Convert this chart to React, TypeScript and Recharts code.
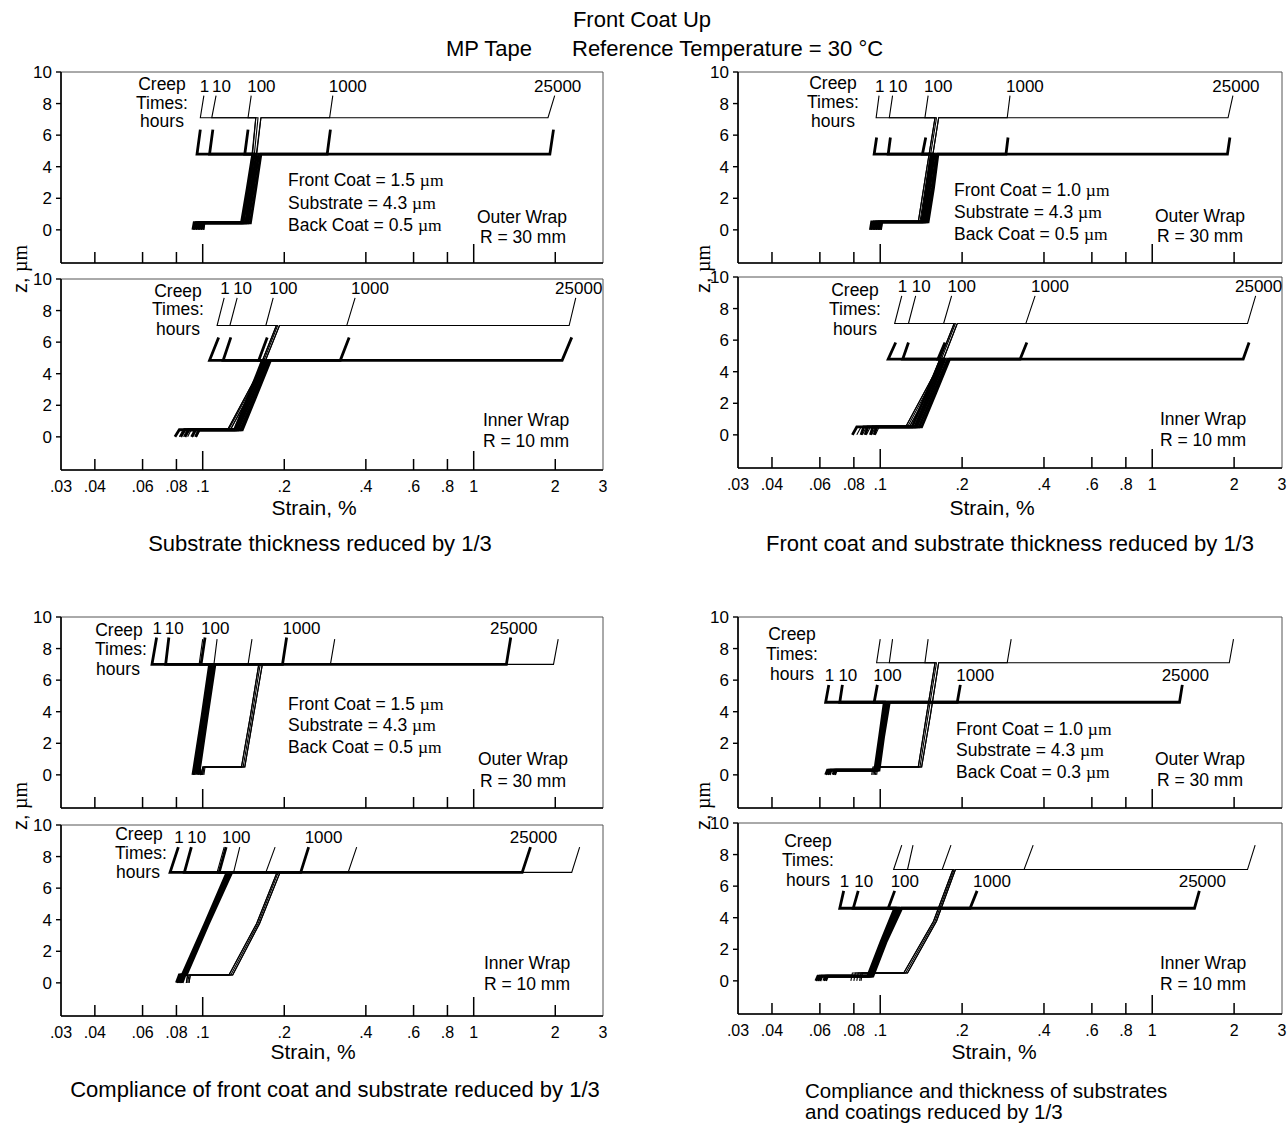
import React from 'react';
import { LineChart, Line, XAxis, YAxis, ReferenceArea, ReferenceDot } from 'recharts';

const FONT = '"Liberation Sans", Arial, Helvetica, sans-serif';
const SERIF = '"Liberation Serif", "Times New Roman", serif';

// ---------- shared axis data ----------
const creepTimes = ['1', '10', '100', '1000', '25000'];
const xTickValues = [0.03, 0.04, 0.06, 0.08, 0.1, 0.2, 0.4, 0.6, 0.8, 1, 2, 3];
const xTickLabels = ['.03', '.04', '.06', '.08', '.1', '.2', '.4', '.6', '.8', '1', '2', '3'];
const zTicks = [0, 2, 4, 6, 8, 10];

// Each row = one creep time (1, 10, 100, 1000, 25000 h), strain in %:
// [back coat @z0, back coat @z1, substrate @z1, substrate @mid, substrate @z2, front coat @z2, front coat @z3]
// Z arrays = [bottom, back/substrate interface, substrate/front interface, top of front coat]

// Panel A: substrate thickness reduced by 1/3
const aOuterThickZ = [0, 0.45, 4.8, 6.35];
const aOuterThick = [
  [0.092, 0.093, 0.139, 0.146, 0.153, 0.0953, 0.098],
  [0.094, 0.095, 0.141, 0.148, 0.155, 0.106, 0.109],
  [0.096, 0.097, 0.144, 0.151, 0.158, 0.143, 0.147],
  [0.098, 0.099, 0.147, 0.154, 0.161, 0.288, 0.296],
  [0.1, 0.101, 0.15, 0.157, 0.164, 1.91, 1.97],
];
const aOuterThinZ = [0, 0.5, 7.1, 8.5];
const aOuterThin = [
  [0.093, 0.094, 0.144, 0.15, 0.157, 0.098, 0.101],
  [0.095, 0.096, 0.145, 0.151, 0.157, 0.108, 0.112],
  [0.097, 0.098, 0.146, 0.153, 0.16, 0.147, 0.151],
  [0.099, 0.1, 0.147, 0.155, 0.164, 0.294, 0.302],
  [0.101, 0.102, 0.148, 0.156, 0.164, 1.88, 1.99],
];
const aInnerThickZ = [0, 0.45, 4.85, 6.3];
const aInnerThick = [
  [0.079, 0.082, 0.131, 0.148, 0.166, 0.106, 0.1145],
  [0.083, 0.086, 0.133, 0.15, 0.169, 0.119, 0.127],
  [0.086, 0.089, 0.135, 0.153, 0.172, 0.161, 0.173],
  [0.091, 0.094, 0.138, 0.156, 0.175, 0.322, 0.347],
  [0.094, 0.097, 0.14, 0.158, 0.178, 2.12, 2.3],
];
const aInnerThinZ = [0, 0.5, 7.05, 8.8];
const aInnerThin = [
  [0.082, 0.085, 0.124, 0.157, 0.187, 0.113, 0.12],
  [0.085, 0.088, 0.124, 0.157, 0.187, 0.126, 0.134],
  [0.088, 0.091, 0.125, 0.159, 0.189, 0.171, 0.182],
  [0.092, 0.095, 0.127, 0.161, 0.192, 0.34, 0.365],
  [0.095, 0.098, 0.127, 0.161, 0.192, 2.25, 2.38],
];

// Panel B: front coat and substrate thickness reduced by 1/3
const bOuterThickZ = [0, 0.5, 4.8, 5.85];
const bOuterThick = [
  [0.092, 0.093, 0.142, 0.148, 0.154, 0.095, 0.097],
  [0.094, 0.095, 0.144, 0.15, 0.156, 0.107, 0.109],
  [0.096, 0.097, 0.146, 0.152, 0.158, 0.143, 0.147],
  [0.098, 0.099, 0.148, 0.155, 0.161, 0.29, 0.295],
  [0.1, 0.101, 0.15, 0.157, 0.163, 1.89, 1.93],
];
const bOuterThinZ = [0, 0.5, 7.1, 8.5];
const bOuterThin = [
  [0.093, 0.094, 0.138, 0.148, 0.159, 0.0966, 0.099],
  [0.095, 0.096, 0.138, 0.148, 0.159, 0.108, 0.111],
  [0.097, 0.098, 0.14, 0.15, 0.161, 0.146, 0.15],
  [0.099, 0.1, 0.142, 0.153, 0.164, 0.293, 0.3],
  [0.101, 0.102, 0.142, 0.153, 0.164, 1.9, 1.98],
];
const bInnerThickZ = [0, 0.5, 4.8, 5.85];
const bInnerThick = [
  [0.079, 0.082, 0.131, 0.148, 0.167, 0.107, 0.114],
  [0.085, 0.087, 0.134, 0.151, 0.17, 0.121, 0.127],
  [0.088, 0.09, 0.136, 0.154, 0.173, 0.163, 0.173],
  [0.092, 0.094, 0.139, 0.157, 0.177, 0.327, 0.346],
  [0.095, 0.097, 0.142, 0.16, 0.18, 2.16, 2.27],
];
const bInnerThinZ = [0, 0.5, 7.05, 8.8];
const bInnerThin = [
  [0.082, 0.085, 0.124, 0.157, 0.187, 0.113, 0.12],
  [0.086, 0.089, 0.124, 0.157, 0.187, 0.127, 0.135],
  [0.089, 0.092, 0.126, 0.159, 0.189, 0.171, 0.183],
  [0.093, 0.096, 0.128, 0.162, 0.192, 0.343, 0.371],
  [0.096, 0.099, 0.128, 0.162, 0.192, 2.24, 2.4],
];

// Panel C: compliance of front coat and substrate reduced by 1/3
const cOuterThickZ = [0, 0.5, 7.0, 8.7];
const cOuterThick = [
  [0.092, 0.093, 0.093, 0.0995, 0.106, 0.065, 0.0676],
  [0.093, 0.094, 0.094, 0.1005, 0.107, 0.073, 0.075],
  [0.095, 0.095, 0.095, 0.102, 0.108, 0.0986, 0.102],
  [0.097, 0.096, 0.096, 0.103, 0.11, 0.197, 0.204],
  [0.099, 0.097, 0.0976, 0.104, 0.111, 1.32, 1.37],
];
const cOuterThinZ = [0, 0.5, 7.0, 8.6];
const cOuterThin = [
  [0.099, 0.1, 0.139, 0.15, 0.161, 0.097, 0.1],
  [0.099, 0.1, 0.139, 0.15, 0.161, 0.11, 0.113],
  [0.1, 0.101, 0.141, 0.152, 0.163, 0.147, 0.152],
  [0.1, 0.101, 0.143, 0.154, 0.166, 0.296, 0.307],
  [0.101, 0.102, 0.143, 0.154, 0.166, 1.97, 2.05],
];
const cInnerThickZ = [0, 0.5, 7.0, 8.6];
const cInnerThick = [
  [0.08, 0.082, 0.084, 0.102, 0.123, 0.0758, 0.0813],
  [0.081, 0.083, 0.085, 0.103, 0.124, 0.0856, 0.0908],
  [0.082, 0.084, 0.0855, 0.1035, 0.125, 0.115, 0.122],
  [0.083, 0.085, 0.086, 0.104, 0.127, 0.23, 0.246],
  [0.084, 0.086, 0.087, 0.105, 0.128, 1.51, 1.62],
];
const cInnerThinZ = [0, 0.5, 7.0, 8.6];
const cInnerThin = [
  [0.087, 0.088, 0.125, 0.158, 0.188, 0.113, 0.12],
  [0.087, 0.088, 0.125, 0.158, 0.188, 0.13, 0.137],
  [0.088, 0.089, 0.127, 0.16, 0.19, 0.171, 0.185],
  [0.089, 0.09, 0.129, 0.162, 0.193, 0.344, 0.37],
  [0.089, 0.09, 0.129, 0.162, 0.193, 2.3, 2.46],
];

// Panel D: compliance and thickness of substrates and coatings reduced by 1/3
const dOuterThickZ = [0, 0.3, 4.6, 5.7];
const dOuterThick = [
  [0.063, 0.064, 0.0955, 0.0995, 0.1035, 0.063, 0.0647],
  [0.064, 0.065, 0.0965, 0.1005, 0.1045, 0.071, 0.0726],
  [0.065, 0.066, 0.097, 0.101, 0.1055, 0.095, 0.0976],
  [0.067, 0.068, 0.098, 0.102, 0.107, 0.192, 0.197],
  [0.068, 0.069, 0.099, 0.103, 0.108, 1.26, 1.29],
];
const dOuterThinZ = [0, 0.5, 7.1, 8.6];
const dOuterThin = [
  [0.093, 0.094, 0.138, 0.148, 0.159, 0.097, 0.1],
  [0.094, 0.095, 0.138, 0.148, 0.159, 0.108, 0.111],
  [0.095, 0.096, 0.14, 0.15, 0.161, 0.146, 0.15],
  [0.096, 0.097, 0.142, 0.153, 0.164, 0.293, 0.303],
  [0.097, 0.098, 0.142, 0.153, 0.164, 1.92, 1.99],
];
const dInnerThickZ = [0, 0.3, 4.6, 5.7];
const dInnerThick = [
  [0.058, 0.059, 0.09, 0.1005, 0.113, 0.071, 0.0734],
  [0.059, 0.06, 0.091, 0.1015, 0.115, 0.0796, 0.083],
  [0.06, 0.061, 0.092, 0.1025, 0.116, 0.107, 0.113],
  [0.062, 0.063, 0.093, 0.104, 0.118, 0.214, 0.227],
  [0.063, 0.064, 0.094, 0.105, 0.12, 1.43, 1.49],
];
const dInnerThinZ = [0, 0.5, 7.05, 8.6];
const dInnerThin = [
  [0.078, 0.079, 0.122, 0.157, 0.185, 0.112, 0.12],
  [0.08, 0.081, 0.122, 0.157, 0.185, 0.126, 0.132],
  [0.082, 0.083, 0.124, 0.159, 0.187, 0.169, 0.182],
  [0.084, 0.085, 0.126, 0.161, 0.189, 0.338, 0.365],
  [0.085, 0.086, 0.126, 0.161, 0.189, 2.24, 2.39],
];

// ---------- layout ----------
const Z_MIN = -2.1;
const Z_MAX = 10;
const PLOT_H = 191;
const Y_AXIS_W = 61;
const RIGHT_PAD = 40;

type TextItem = { x: number; y: number; text: React.ReactNode; anchor?: 'start' | 'middle' | 'end'; size?: number };

interface SubplotCfg {
  key: string;
  left: number;
  top: number;
  width: number;
  xLabels: boolean;
  thickZ: number[];
  thick: number[][];
  thinZ: number[];
  thin: number[][];
  labelOn: 'thick' | 'thin';
}

const mu = <span style={{ fontFamily: SERIF }}>µm</span>;

const subplots: SubplotCfg[] = [
  { key: 'aO', left: 61, top: 72, width: 542, xLabels: false, thickZ: aOuterThickZ, thick: aOuterThick, thinZ: aOuterThinZ, thin: aOuterThin, labelOn: 'thin' },
  { key: 'aI', left: 61, top: 279, width: 542, xLabels: true, thickZ: aInnerThickZ, thick: aInnerThick, thinZ: aInnerThinZ, thin: aInnerThin, labelOn: 'thin' },
  { key: 'bO', left: 738, top: 72, width: 544, xLabels: false, thickZ: bOuterThickZ, thick: bOuterThick, thinZ: bOuterThinZ, thin: bOuterThin, labelOn: 'thin' },
  { key: 'bI', left: 738, top: 277, width: 544, xLabels: true, thickZ: bInnerThickZ, thick: bInnerThick, thinZ: bInnerThinZ, thin: bInnerThin, labelOn: 'thin' },
  { key: 'cO', left: 61, top: 617, width: 542, xLabels: false, thickZ: cOuterThickZ, thick: cOuterThick, thinZ: cOuterThinZ, thin: cOuterThin, labelOn: 'thick' },
  { key: 'cI', left: 61, top: 825, width: 542, xLabels: true, thickZ: cInnerThickZ, thick: cInnerThick, thinZ: cInnerThinZ, thin: cInnerThin, labelOn: 'thick' },
  { key: 'dO', left: 738, top: 617, width: 544, xLabels: false, thickZ: dOuterThickZ, thick: dOuterThick, thinZ: dOuterThinZ, thin: dOuterThin, labelOn: 'thick' },
  { key: 'dI', left: 738, top: 823, width: 544, xLabels: true, thickZ: dInnerThickZ, thick: dInnerThick, thinZ: dInnerThinZ, thin: dInnerThin, labelOn: 'thick' },
];

const BIG = 22;
const AX = 21;

const texts: TextItem[] = [
  { x: 642, y: 20, text: 'Front Coat Up', size: BIG },
  { x: 446, y: 49, text: 'MP Tape', anchor: 'start', size: BIG },
  { x: 572, y: 49, text: 'Reference Temperature = 30 °C', anchor: 'start', size: BIG },
  // A
  { x: 162, y: 85, text: 'Creep' }, { x: 162, y: 104, text: 'Times:' }, { x: 162, y: 122, text: 'hours' },
  { x: 288, y: 181, text: <>Front Coat = 1.5 {mu}</>, anchor: 'start' },
  { x: 288, y: 204, text: <>Substrate = 4.3 {mu}</>, anchor: 'start' },
  { x: 288, y: 226, text: <>Back Coat = 0.5 {mu}</>, anchor: 'start' },
  { x: 522, y: 218, text: 'Outer Wrap' }, { x: 523, y: 238, text: 'R = 30 mm' },
  { x: 178, y: 292, text: 'Creep' }, { x: 178, y: 310, text: 'Times:' }, { x: 178, y: 330, text: 'hours' },
  { x: 526, y: 421, text: 'Inner Wrap' }, { x: 526, y: 442, text: 'R = 10 mm' },
  { x: 314, y: 507, text: 'Strain, %', size: AX },
  { x: 320, y: 544, text: 'Substrate thickness reduced by 1/3', size: BIG },
  // B
  { x: 833, y: 84, text: 'Creep' }, { x: 833, y: 103, text: 'Times:' }, { x: 833, y: 122, text: 'hours' },
  { x: 954, y: 191, text: <>Front Coat = 1.0 {mu}</>, anchor: 'start' },
  { x: 954, y: 213, text: <>Substrate = 4.3 {mu}</>, anchor: 'start' },
  { x: 954, y: 235, text: <>Back Coat = 0.5 {mu}</>, anchor: 'start' },
  { x: 1200, y: 217, text: 'Outer Wrap' }, { x: 1200, y: 237, text: 'R = 30 mm' },
  { x: 855, y: 291, text: 'Creep' }, { x: 855, y: 310, text: 'Times:' }, { x: 855, y: 330, text: 'hours' },
  { x: 1203, y: 420, text: 'Inner Wrap' }, { x: 1203, y: 441, text: 'R = 10 mm' },
  { x: 992, y: 507, text: 'Strain, %', size: AX },
  { x: 1010, y: 544, text: 'Front coat and substrate thickness reduced by 1/3', size: BIG },
  // C
  { x: 119, y: 631, text: 'Creep' }, { x: 121, y: 650, text: 'Times:' }, { x: 118, y: 670, text: 'hours' },
  { x: 288, y: 705, text: <>Front Coat = 1.5 {mu}</>, anchor: 'start' },
  { x: 288, y: 726, text: <>Substrate = 4.3 {mu}</>, anchor: 'start' },
  { x: 288, y: 748, text: <>Back Coat = 0.5 {mu}</>, anchor: 'start' },
  { x: 523, y: 760, text: 'Outer Wrap' }, { x: 523, y: 782, text: 'R = 30 mm' },
  { x: 139, y: 835, text: 'Creep' }, { x: 141, y: 854, text: 'Times:' }, { x: 138, y: 873, text: 'hours' },
  { x: 527, y: 964, text: 'Inner Wrap' }, { x: 527, y: 985, text: 'R = 10 mm' },
  { x: 313, y: 1051, text: 'Strain, %', size: AX },
  { x: 335, y: 1090, text: 'Compliance of front coat and substrate reduced by 1/3', size: BIG },
  // D
  { x: 792, y: 635, text: 'Creep' }, { x: 792, y: 655, text: 'Times:' }, { x: 792, y: 675, text: 'hours' },
  { x: 956, y: 730, text: <>Front Coat = 1.0 {mu}</>, anchor: 'start' },
  { x: 956, y: 751, text: <>Substrate = 4.3 {mu}</>, anchor: 'start' },
  { x: 956, y: 773, text: <>Back Coat = 0.3 {mu}</>, anchor: 'start' },
  { x: 1200, y: 760, text: 'Outer Wrap' }, { x: 1200, y: 781, text: 'R = 30 mm' },
  { x: 808, y: 842, text: 'Creep' }, { x: 808, y: 861, text: 'Times:' }, { x: 808, y: 881, text: 'hours' },
  { x: 1203, y: 964, text: 'Inner Wrap' }, { x: 1203, y: 985, text: 'R = 10 mm' },
  { x: 994, y: 1051, text: 'Strain, %', size: AX },
  { x: 805, y: 1091, text: 'Compliance and thickness of substrates', anchor: 'start', size: 20.5 },
  { x: 805, y: 1112, text: 'and coatings reduced by 1/3', anchor: 'start', size: 20.5 },
];

const zLabels = [
  { x: 20, y: 269 },
  { x: 703, y: 269 },
  { x: 20, y: 806 },
  { x: 703, y: 806 },
];

function toPoints(z: number[], r: number[]) {
  const [z0, z1, z2, z3] = z;
  return [
    { x: r[0], z: z0 },
    { x: r[1], z: z1 },
    { x: r[2], z: z1 },
    { x: r[3], z: (z1 + z2) / 2 },
    { x: r[4], z: z2 },
    { x: r[5], z: z2 },
    { x: r[6], z: z3 },
  ];
}

const renderXTick = (showLabel: boolean) => (props: any) => {
  const { x, y, payload } = props;
  const v = payload.value as number;
  const i = xTickValues.indexOf(v);
  const long = v === 0.1 || v === 1;
  const edge = v === 0.03 || v === 3;
  return (
    <g>
      {!edge && <line x1={x} x2={x} y1={y} y2={y - (long ? 19 : 11)} stroke="#000" strokeWidth={1.5} />}
      {showLabel && (
        <text x={x} y={y + 22} textAnchor="middle" fontSize={16} fontFamily={FONT} fill="#000">
          {i >= 0 ? xTickLabels[i] : ''}
        </text>
      )}
    </g>
  );
};

const timeLabel = (text: string, last: boolean) => (props: any) => {
  const vb = props.viewBox || {};
  const x = vb.x ?? props.x;
  const y = vb.y ?? props.y;
  return (
    <text
      x={last ? x + 3 : x - 4}
      y={y - 4}
      textAnchor={last ? 'middle' : 'start'}
      fontSize={17}
      fontFamily={FONT}
      fill="#000"
    >
      {text}
    </text>
  );
};

function Subplot({ cfg }: { cfg: SubplotCfg }) {
  const xAxisH = cfg.xLabels ? 34 : 2;
  const width = Y_AXIS_W + cfg.width + RIGHT_PAD;
  const height = 10 + PLOT_H + xAxisH;
  const labelRows = cfg.labelOn === 'thin' ? cfg.thin : cfg.thick;
  const labelZ = cfg.labelOn === 'thin' ? cfg.thinZ[3] : cfg.thickZ[3];
  return (
    <div style={{ position: 'absolute', left: cfg.left - Y_AXIS_W, top: cfg.top - 10 }}>
      <LineChart width={width} height={height} margin={{ top: 10, right: RIGHT_PAD, left: 0, bottom: 0 }}>
        <XAxis
          type="number"
          dataKey="x"
          scale="log"
          domain={[0.03, 3]}
          allowDataOverflow
          ticks={xTickValues}
          interval={0}
          height={xAxisH}
          tickSize={0}
          tickMargin={0}
          tickLine={false}
          axisLine={{ stroke: '#000', strokeWidth: 1.6 }}
          tick={renderXTick(cfg.xLabels)}
        />
        <YAxis
          type="number"
          dataKey="z"
          domain={[Z_MIN, Z_MAX]}
          allowDataOverflow
          ticks={zTicks}
          interval={0}
          width={Y_AXIS_W}
          tickSize={5}
          tickMargin={4}
          axisLine={{ stroke: '#000', strokeWidth: 1.6 }}
          tickLine={{ stroke: '#000', strokeWidth: 1.4 }}
          tick={{ fill: '#000', fontSize: 17, fontFamily: FONT }}
        />
        <ReferenceArea x1={0.03} x2={3} y1={Z_MIN} y2={Z_MAX} fill="none" stroke="#555" strokeWidth={1} ifOverflow="visible" />
        {cfg.thin.map((r, i) => (
          <Line
            key={`thin-${i}`}
            data={toPoints(cfg.thinZ, r)}
            dataKey="z"
            type="linear"
            stroke="#000"
            strokeWidth={1.1}
            dot={false}
            activeDot={false}
            isAnimationActive={false}
          />
        ))}
        {cfg.thick.map((r, i) => (
          <Line
            key={`thick-${i}`}
            data={toPoints(cfg.thickZ, r)}
            dataKey="z"
            type="linear"
            stroke="#000"
            strokeWidth={2.8}
            dot={false}
            activeDot={false}
            isAnimationActive={false}
          />
        ))}
        {labelRows.map((r, i) => (
          <ReferenceDot
            key={`lab-${i}`}
            x={r[6]}
            y={labelZ}
            r={0}
            fill="none"
            stroke="none"
            ifOverflow="visible"
            label={{ content: timeLabel(creepTimes[i], i === creepTimes.length - 1) }}
          />
        ))}
      </LineChart>
    </div>
  );
}

function T({ item }: { item: TextItem }) {
  const anchor = item.anchor ?? 'middle';
  const tx = anchor === 'middle' ? '-50%' : anchor === 'end' ? '-100%' : '0';
  return (
    <div
      style={{
        position: 'absolute',
        left: item.x,
        top: item.y,
        transform: `translate(${tx}, -50%)`,
        fontSize: item.size ?? 17.5,
        fontFamily: FONT,
        whiteSpace: 'nowrap',
        lineHeight: 1,
        color: '#000',
      }}
    >
      {item.text}
    </div>
  );
}

export default function App() {
  return (
    <div style={{ position: 'absolute', left: 0, top: 0, width: 1288, height: 1124, background: '#fff', overflow: 'hidden' }}>
      {subplots.map((cfg) => (
        <Subplot key={cfg.key} cfg={cfg} />
      ))}
      {texts.map((t, i) => (
        <T key={i} item={t} />
      ))}
      {zLabels.map((p, i) => (
        <div
          key={`z-${i}`}
          style={{
            position: 'absolute',
            left: p.x,
            top: p.y,
            transform: 'translate(-50%, -50%) rotate(-90deg)',
            fontSize: 20,
            fontFamily: FONT,
            whiteSpace: 'nowrap',
            lineHeight: 1,
          }}
        >
          z, <span style={{ fontFamily: SERIF }}>µm</span>
        </div>
      ))}
    </div>
  );
}
